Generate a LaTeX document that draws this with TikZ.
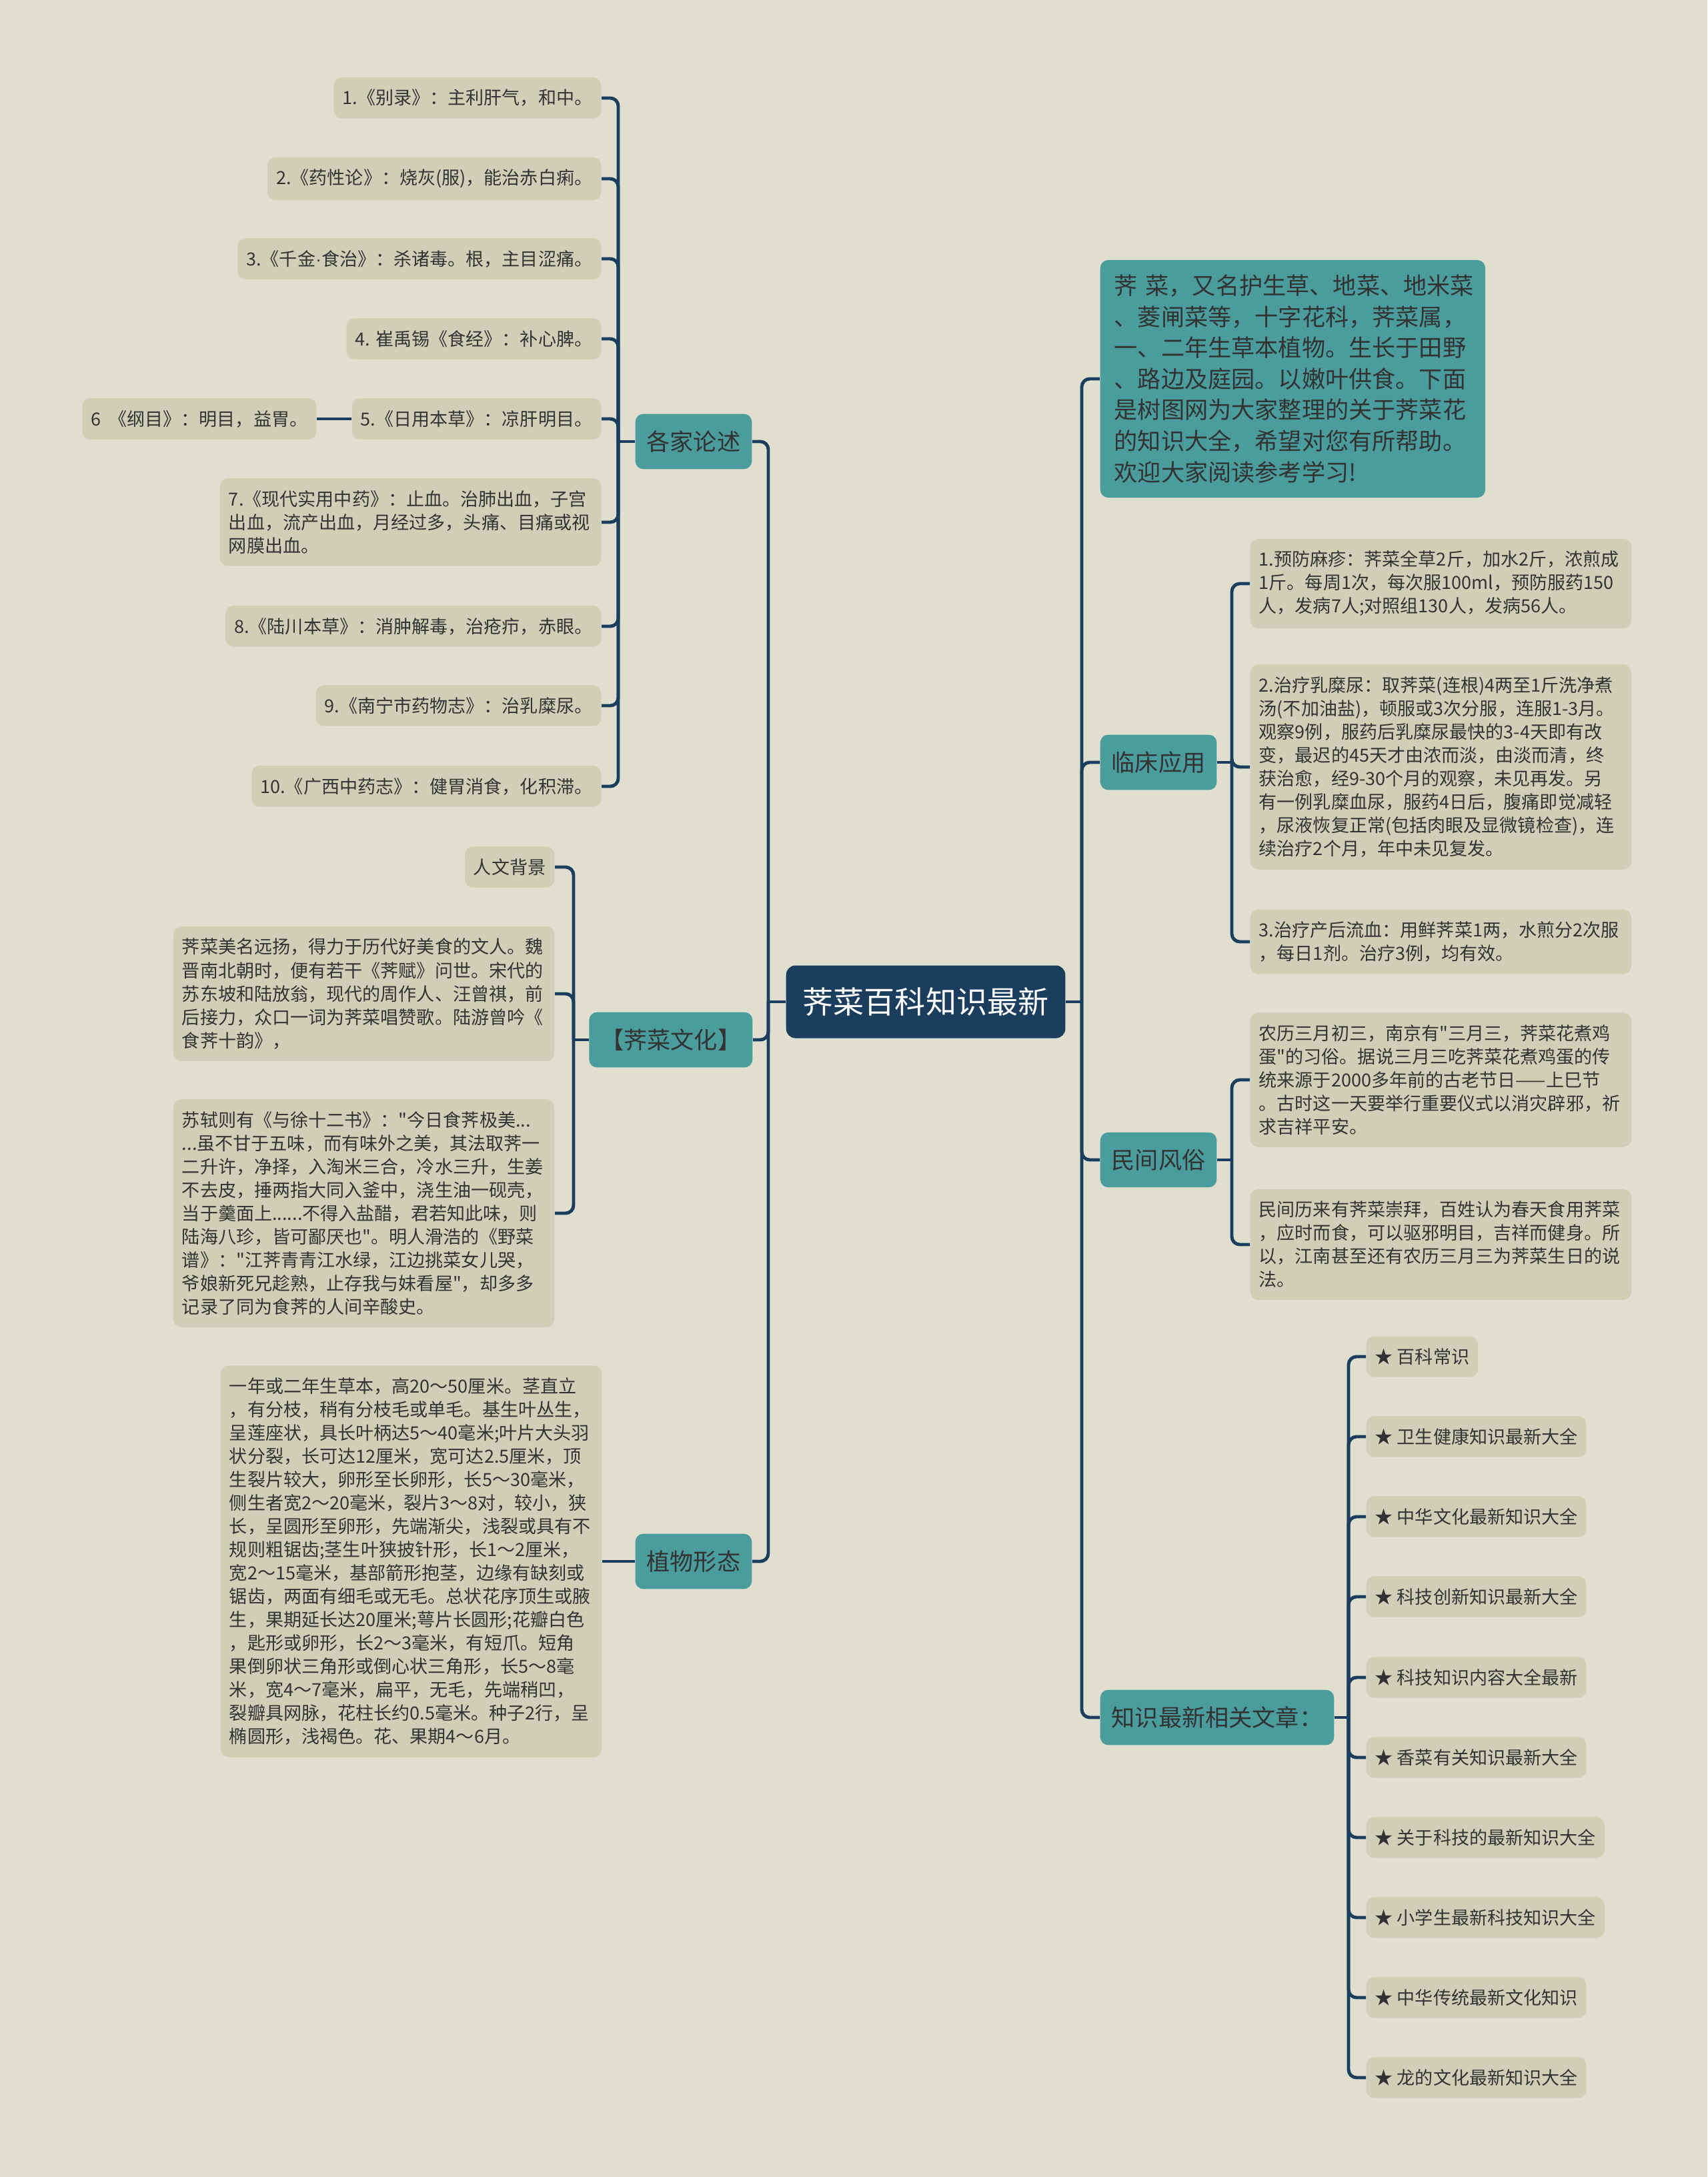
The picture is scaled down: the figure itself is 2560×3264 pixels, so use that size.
\documentclass[tikz,border=0pt]{standalone}
\usepackage{fontspec}
\setmainfont{Noto Sans CJK SC}[Ligatures=TeXOff]
\newfontfamily\dotfont{Liberation Sans}
\usetikzlibrary{calc}

\definecolor{bgcol}{HTML}{E0DFCF}
\definecolor{leafcol}{HTML}{CFCEB6}
\definecolor{tealcol}{HTML}{4A9C9D}
\definecolor{navy}{HTML}{1B3E5E}
\definecolor{inkcol}{HTML}{333333}

\begin{document}
\begin{tikzpicture}[x=0.01cm, y=-0.01cm,
  link/.style={draw=navy, line width=1.4pt, rounded corners=0.12cm},
  leaf/.style={fill=leafcol, rounded corners=0.12cm, text=inkcol, inner xsep=0.13cm, inner ysep=0.18cm,
    font=\fontsize{7.7pt}{9.96pt}\selectfont, align=left},
  leafwide/.style={leaf, text width=5.45cm},
  topic/.style={fill=tealcol, rounded corners=0.12cm, text=black!80, inner xsep=0.17cm, inner ysep=0.25cm,
    font=\fontsize{10pt}{12pt}\selectfont},
  rootbox/.style={fill=navy, rounded corners=0.14cm, text=white, inner xsep=0.25cm, inner ysep=0.33cm,
    font=\fontsize{13.1pt}{15pt}\selectfont}]

  % background and page size
  \fill[bgcol] (0,0) rectangle (2560,3264);

  % Root
  \node[rootbox] (root) at (1388,1502) {荠菜百科知识最新};

  % Spine points beside the root
  \coordinate (lj) at (1152,1502);   % left side
  \coordinate (rj) at (1622,1502);   % right side

  % Left main topics
  \node[topic, anchor=east] (gjls) at (1128,662) {各家论述};
  \node[topic, anchor=east] (jcwh) at (1129,1559) {【荠菜文化】};
  \node[topic, anchor=east] (zwxt) at (1128,2341) {植物形态};

  % Right main topics
  \node[topic, anchor=west, text width=5.35cm, inner xsep=0.21cm, inner ysep=0.22cm, align=left,
    font=\fontsize{10pt}{13.25pt}\selectfont] (intro) at (1649,568)
    {荠~菜，又名护生草、地菜、地米菜\\、菱闸菜等，十字花科，荠菜属，\\一、二年生草本植物。生长于田野\\、路边及庭园。以嫩叶供食。下面\\是树图网为大家整理的关于荠菜花\\的知识大全，希望对您有所帮助。\\欢迎大家阅读参考学习!};
  \node[topic, anchor=west] (lcyy) at (1649,1143) {临床应用};
  \node[topic, anchor=west] (mjfs) at (1649,1739) {民间风俗};
  \node[topic, anchor=west] (zsxg) at (1649,2575) {知识最新相关文章：};

  % 各家论述
  \node[leaf, anchor=east] (g1) at (902,147) {1.《别录》：主利肝气，和中。};
  \node[leaf, anchor=east] (g2) at (902,268) {2.《药性论》：烧灰(服)，能治赤白痢。};
  \node[leaf, anchor=east] (g3) at (902,388) {3.《千金{\dotfont ·}食治》：杀诸毒。根，主目涩痛。};
  \node[leaf, anchor=east] (g4) at (902,508) {4. 崔禹锡《食经》：补心脾。};
  \node[leaf, anchor=east] (g5) at (902,628) {5.《日用本草》：凉肝明目。};
  \node[leaf, anchor=east] (g6) at (475,628) {6\ \ 《纲目》：明目，益胃。};
  \node[leafwide, anchor=east] (g7) at (902,783)
    {7.《现代实用中药》：止血。治肺出血，子宫\\出血，流产出血，月经过多，头痛、目痛或视\\网膜出血。};
  \node[leaf, anchor=east] (g8) at (902,939) {8.《陆川本草》：消肿解毒，治疮疖，赤眼。};
  \node[leaf, anchor=east] (g9) at (902,1058) {9.《南宁市药物志》：治乳糜尿。};
  \node[leaf, anchor=east] (g10) at (902,1179) {10.《广西中药志》：健胃消食，化积滞。};

  % 荠菜文化
  \node[leaf, anchor=east] (c1) at (832,1300) {人文背景};
  \node[leafwide, anchor=east] (c2) at (832,1490)
    {荠菜美名远扬，得力于历代好美食的文人。魏\\晋南北朝时，便有若干《荠赋》问世。宋代的\\苏东坡和陆放翁，现代的周作人、汪曾祺，前\\后接力，众口一词为荠菜唱赞歌。陆游曾吟《\\食荠十韵》，};
  \node[leafwide, anchor=east] (c3) at (832,1819)
    {苏轼则有《与徐十二书》："今日食荠极美...\\...虽不甘于五味，而有味外之美，其法取荠一\\二升许，净择，入淘米三合，冷水三升，生姜\\不去皮，捶两指大同入釜中，浇生油一砚壳，\\当于羹面上......不得入盐醋，君若知此味，则\\陆海八珍，皆可鄙厌也"。明人滑浩的《野菜\\谱》："江荠青青江水绿，江边挑菜女儿哭，\\爷娘新死兄趁熟，止存我与妹看屋"，却多多\\记录了同为食荠的人间辛酸史。};

  % 植物形态
  \node[leafwide, anchor=east] (p1) at (903,2341)
    {一年或二年生草本，高20～50厘米。茎直立\\，有分枝，稍有分枝毛或单毛。基生叶丛生，\\呈莲座状，具长叶柄达5～40毫米;叶片大头羽\\状分裂，长可达12厘米，宽可达2.5厘米，顶\\生裂片较大，卵形至长卵形，长5～30毫米，\\侧生者宽2～20毫米，裂片3～8对，较小，狭\\长，呈圆形至卵形，先端渐尖，浅裂或具有不\\规则粗锯齿;茎生叶狭披针形，长1～2厘米，\\宽2～15毫米，基部箭形抱茎，边缘有缺刻或\\锯齿，两面有细毛或无毛。总状花序顶生或腋\\生，果期延长达20厘米;萼片长圆形;花瓣白色\\，匙形或卵形，长2～3毫米，有短爪。短角\\果倒卵状三角形或倒心状三角形，长5～8毫\\米，宽4～7毫米，扁平，无毛，先端稍凹，\\裂瓣具网脉，花柱长约0.5毫米。种子2行，呈\\椭圆形，浅褐色。花、果期4～6月。};

  % 临床应用
  \node[leafwide, anchor=west] (l1) at (1874,875)
    {1.预防麻疹：荠菜全草2斤，加水2斤，浓煎成\\1斤。每周1次，每次服100ml，预防服药150\\人，发病7人;对照组130人，发病56人。};
  \node[leafwide, anchor=west] (l2) at (1874,1150)
    {2.治疗乳糜尿：取荠菜(连根)4两至1斤洗净煮\\汤(不加油盐)，顿服或3次分服，连服1-3月。\\观察9例，服药后乳糜尿最快的3-4天即有改\\变，最迟的45天才由浓而淡，由淡而清，终\\获治愈，经9-30个月的观察，未见再发。另\\有一例乳糜血尿，服药4日后，腹痛即觉减轻\\，尿液恢复正常(包括肉眼及显微镜检查)，连\\续治疗2个月，年中未见复发。};
  \node[leafwide, anchor=west] (l3) at (1874,1412)
    {3.治疗产后流血：用鲜荠菜1两，水煎分2次服\\，每日1剂。治疗3例，均有效。};

  % 民间风俗
  \node[leafwide, anchor=west] (m1) at (1874,1619)
    {农历三月初三，南京有"三月三，荠菜花煮鸡\\蛋"的习俗。据说三月三吃荠菜花煮鸡蛋的传\\统来源于2000多年前的古老节日——上巳节\\。古时这一天要举行重要仪式以消灾辟邪，祈\\求吉祥平安。};
  \node[leafwide, anchor=west] (m2) at (1874,1866)
    {民间历来有荠菜崇拜，百姓认为春天食用荠菜\\，应时而食，可以驱邪明目，吉祥而健身。所\\以，江南甚至还有农历三月三为荠菜生日的说\\法。};

  % 知识最新相关文章
  \node[leaf, anchor=west] (k1) at (2048,2034) {★ 百科常识};
  \node[leaf, anchor=west] (k2) at (2048,2154) {★ 卫生健康知识最新大全};
  \node[leaf, anchor=west] (k3) at (2048,2274) {★ 中华文化最新知识大全};
  \node[leaf, anchor=west] (k4) at (2048,2394) {★ 科技创新知识最新大全};
  \node[leaf, anchor=west] (k5) at (2048,2515) {★ 科技知识内容大全最新};
  \node[leaf, anchor=west] (k6) at (2048,2635) {★ 香菜有关知识最新大全};
  \node[leaf, anchor=west] (k7) at (2048,2755) {★ 关于科技的最新知识大全};
  \node[leaf, anchor=west] (k8) at (2048,2875) {★ 小学生最新科技知识大全};
  \node[leaf, anchor=west] (k9) at (2048,2995) {★ 中华传统最新文化知识};
  \node[leaf, anchor=west] (k10) at (2048,3115) {★ 龙的文化最新知识大全};

  % Connectors from the root
  \draw[link] (root.west) -- (lj);
  \draw[link] (root.east) -- (rj);
  \draw[link] (lj) |- (gjls.east);
  \draw[link] (lj) |- (jcwh.east);
  \draw[link] (lj) |- (zwxt.east);
  \draw[link] (rj) |- (intro.west);
  \draw[link] (rj) |- (lcyy.west);
  \draw[link] (rj) |- (mjfs.west);
  \draw[link] (rj) |- (zsxg.west);

  % 各家论述 branch
  \coordinate (gj) at (927,662);
  \draw[link] (gjls.west) -- (gj);
  \draw[link] (gj) |- (g1.east);
  \draw[link] (gj) |- (g2.east);
  \draw[link] (gj) |- (g3.east);
  \draw[link] (gj) |- (g4.east);
  \draw[link] (gj) |- (g5.east);
  \draw[link] (gj) |- (g7.east);
  \draw[link] (gj) |- (g8.east);
  \draw[link] (gj) |- (g9.east);
  \draw[link] (gj) |- (g10.east);
  \draw[link] (g5.west) -- (g6.east);

  % 荠菜文化 branch
  \coordinate (cj) at (860,1559);
  \draw[link] (jcwh.west) -- (cj);
  \draw[link] (cj) |- (c1.east);
  \draw[link] (cj) |- (c2.east);
  \draw[link] (cj) |- (c3.east);

  % 植物形态 branch
  \draw[link] (zwxt.west) -- (p1.east);

  % 临床应用 branch
  \coordinate (lcj) at (1847,1143);
  \draw[link] (lcyy.east) -- (lcj);
  \draw[link] (lcj) |- (l1.west);
  \draw[link] (lcj) |- (l2.west);
  \draw[link] (lcj) |- (l3.west);

  % 民间风俗 branch
  \coordinate (mj) at (1847,1739);
  \draw[link] (mjfs.east) -- (mj);
  \draw[link] (mj) |- (m1.west);
  \draw[link] (mj) |- (m2.west);

  % 知识最新相关文章 branch
  \coordinate (kj) at (2022,2575);
  \draw[link] (zsxg.east) -- (kj);
  \draw[link] (kj) |- (k1.west);
  \draw[link] (kj) |- (k2.west);
  \draw[link] (kj) |- (k3.west);
  \draw[link] (kj) |- (k4.west);
  \draw[link] (kj) |- (k5.west);
  \draw[link] (kj) |- (k6.west);
  \draw[link] (kj) |- (k7.west);
  \draw[link] (kj) |- (k8.west);
  \draw[link] (kj) |- (k9.west);
  \draw[link] (kj) |- (k10.west);

\end{tikzpicture}
\end{document}
